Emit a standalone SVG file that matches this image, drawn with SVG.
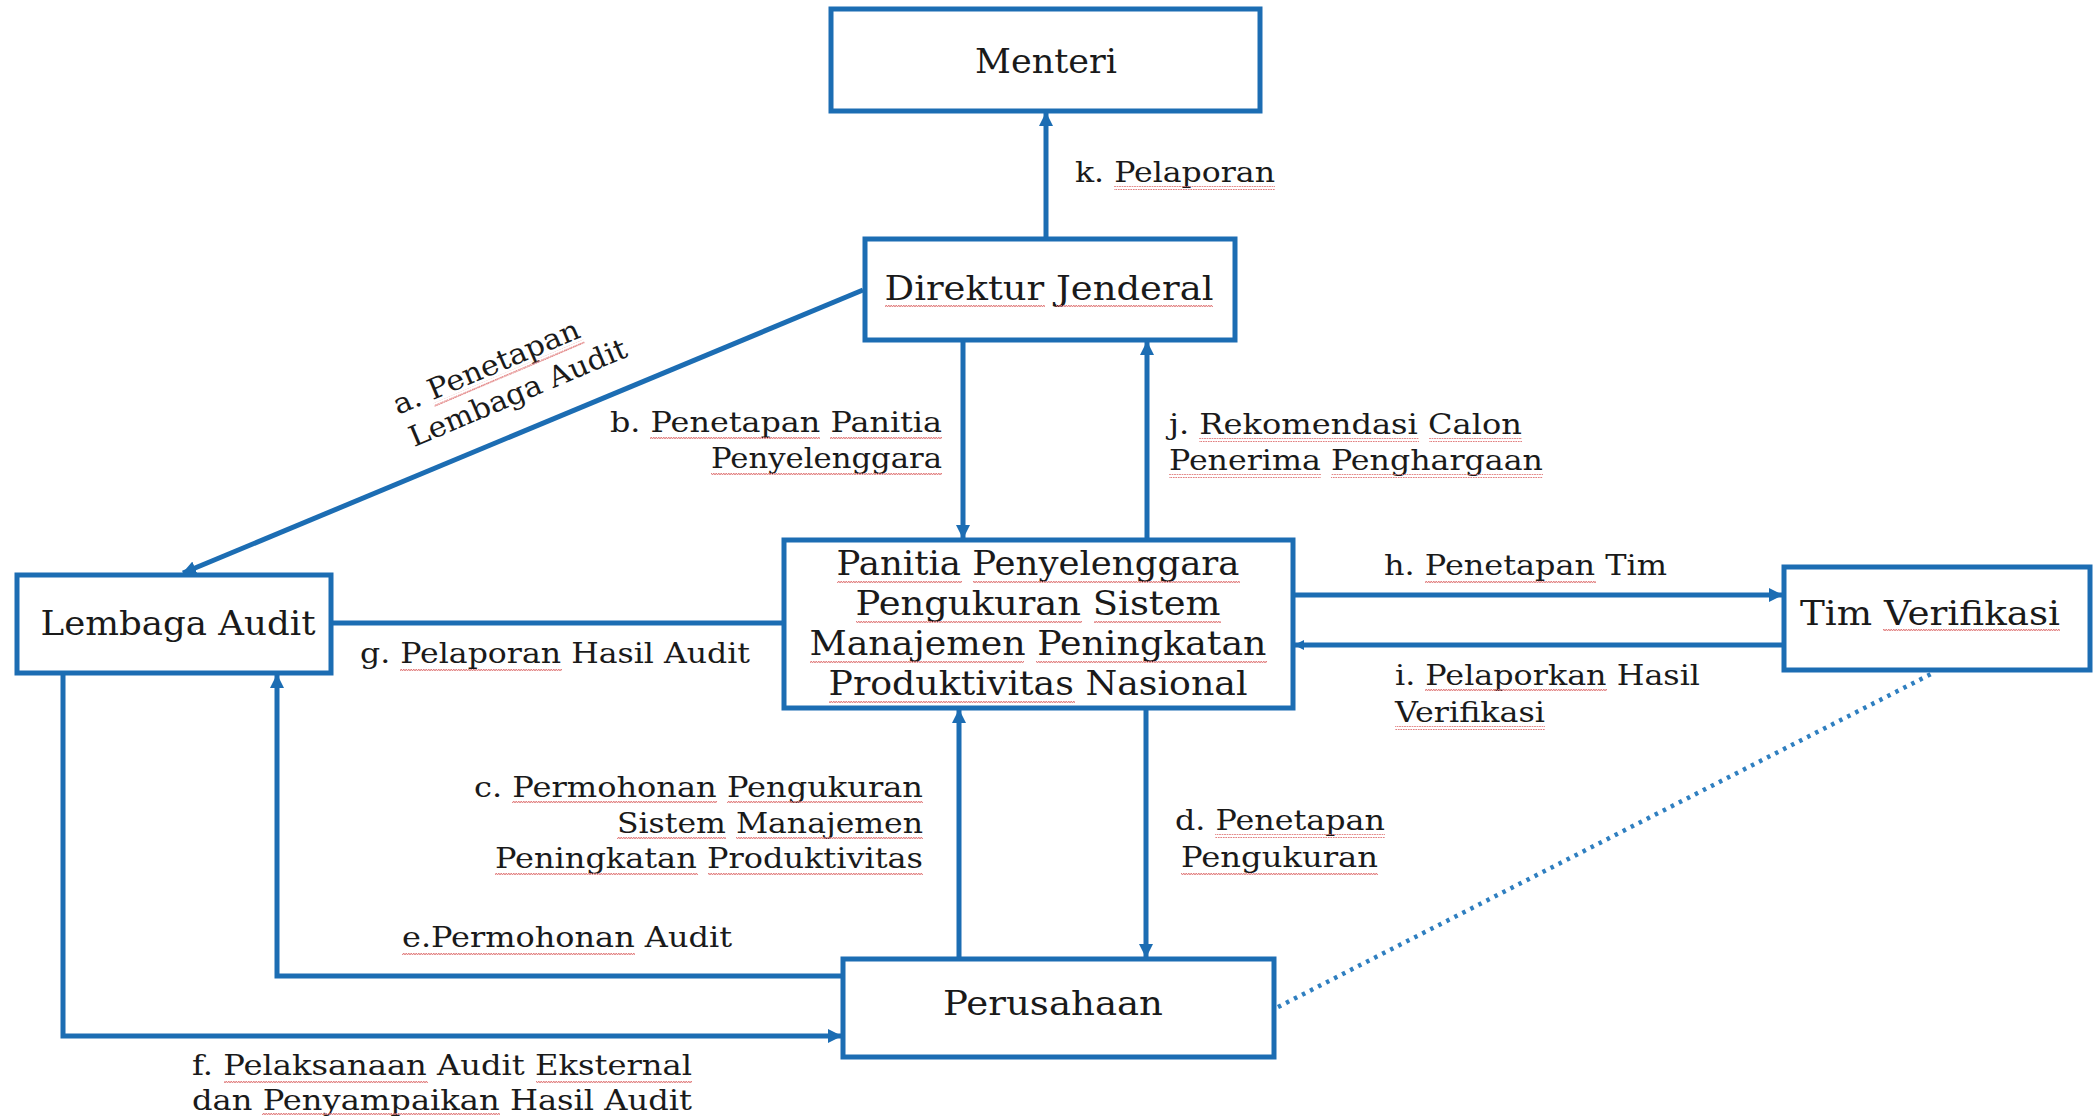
<svg xmlns="http://www.w3.org/2000/svg" width="2094" height="1117" viewBox="0 0 2094 1117">
<style>
.box{fill:#ffffff;stroke:#1c6db3;stroke-width:5}
.ln{fill:none;stroke:#1c6db3;stroke-width:5}
.dot{fill:none;stroke:#2f7fc0;stroke-width:4.5;stroke-dasharray:3.5 5.5}
.t{font-family:"DejaVu Serif","Liberation Serif",serif;fill:#1a1a1a}
.n{font-size:34px}
.l{font-size:28.5px}
.m{text-anchor:middle}
.e{text-anchor:end}
.sq{fill:url(#wave)}
</style>
<defs>
<marker id="ah" viewBox="0 0 14 14" refX="13" refY="7" markerWidth="14" markerHeight="14" markerUnits="userSpaceOnUse" orient="auto">
<path d="M0,0 L14,7 L0,14 z" fill="#1c6db3"/>
</marker>
<marker id="ahs" viewBox="0 0 10 10" refX="9" refY="5" markerWidth="10" markerHeight="10" markerUnits="userSpaceOnUse" orient="auto">
<path d="M0,0 L10,5 L0,10 z" fill="#1c6db3"/>
</marker>
<pattern id="wave" patternUnits="userSpaceOnUse" x="0" y="0" width="5" height="4">
<path d="M0,3 L1.25,1 L2.5,3 L3.75,1 L5,3" fill="none" stroke="#e07a7a" stroke-width="1"/>
</pattern>
</defs>
<rect width="2094" height="1117" fill="#ffffff"/>

<g id="connectors">
<path id="k" class="ln" d="M1046,237 L1046,113" marker-end="url(#ah)"/>
<path id="a" class="ln" d="M863,290 L183,573" marker-end="url(#ah)"/>
<path id="b" class="ln" d="M963,342 L963,538" marker-end="url(#ah)"/>
<path id="j" class="ln" d="M1147,538 L1147,342" marker-end="url(#ah)"/>
<path id="g" class="ln" d="M333,623 L782,623"/>
<path id="h" class="ln" d="M1295,595 L1782,595" marker-end="url(#ah)"/>
<path id="i" class="ln" d="M1782,645 L1295,645" marker-end="url(#ahs)"/>
<path id="c" class="ln" d="M959,957 L959,710" marker-end="url(#ah)"/>
<path id="d" class="ln" d="M1146,710 L1146,957" marker-end="url(#ah)"/>
<path id="e" class="ln" d="M841,976 L277,976 L277,675" marker-end="url(#ah)"/>
<path id="f" class="ln" d="M63,675 L63,1036 L841,1036" marker-end="url(#ah)"/>
<path id="v" class="dot" d="M1278,1007 L1935,672"/>

<text class="t l" x="1075" y="182" textLength="200" lengthAdjust="spacingAndGlyphs">k. Pelaporan</text>
<g transform="translate(398,415) rotate(-23)">
<text class="t l" x="0" y="0" textLength="200" lengthAdjust="spacingAndGlyphs">a. Penetapan</text>
<text class="t l" x="2" y="36" textLength="234" lengthAdjust="spacingAndGlyphs">Lembaga Audit</text>
<rect class="sq" x="37" y="3" width="163" height="4"/>
</g>
<text class="t l e" x="942" y="432" textLength="332" lengthAdjust="spacingAndGlyphs">b. Penetapan Panitia</text>
<text class="t l e" x="942" y="468" textLength="231" lengthAdjust="spacingAndGlyphs">Penyelenggara</text>
<text class="t l" x="1169" y="434" textLength="353" lengthAdjust="spacingAndGlyphs">j. Rekomendasi Calon</text>
<text class="t l" x="1169" y="470" textLength="374" lengthAdjust="spacingAndGlyphs">Penerima Penghargaan</text>
<text class="t l" x="360" y="663" textLength="390" lengthAdjust="spacingAndGlyphs">g. Pelaporan Hasil Audit</text>
<text class="t l" x="1384" y="575" textLength="283" lengthAdjust="spacingAndGlyphs">h. Penetapan Tim</text>
<text class="t l" x="1395" y="685" textLength="305" lengthAdjust="spacingAndGlyphs">i. Pelaporkan Hasil</text>
<text class="t l" x="1395" y="722" textLength="150" lengthAdjust="spacingAndGlyphs">Verifikasi</text>
<text class="t l e" x="923" y="797" textLength="449" lengthAdjust="spacingAndGlyphs">c. Permohonan Pengukuran</text>
<text class="t l e" x="923" y="833" textLength="306" lengthAdjust="spacingAndGlyphs">Sistem Manajemen</text>
<text class="t l e" x="923" y="868" textLength="428" lengthAdjust="spacingAndGlyphs">Peningkatan Produktivitas</text>
<text class="t l" x="1175" y="830" textLength="210" lengthAdjust="spacingAndGlyphs">d. Penetapan</text>
<text class="t l" x="1181" y="867" textLength="197" lengthAdjust="spacingAndGlyphs">Pengukuran</text>
<text class="t l" x="402" y="947" textLength="330" lengthAdjust="spacingAndGlyphs">e.Permohonan Audit</text>
<text class="t l" x="192" y="1075" textLength="500" lengthAdjust="spacingAndGlyphs">f. Pelaksanaan Audit Eksternal</text>
<text class="t l" x="192" y="1110" textLength="500" lengthAdjust="spacingAndGlyphs">dan Penyampaikan Hasil Audit</text>
</g>

<g id="menteri">
<rect class="box" x="831" y="9" width="429" height="102"/>
<text class="t n m" x="1046" y="73" textLength="142" lengthAdjust="spacingAndGlyphs">Menteri</text>
</g>
<g id="direktur">
<rect class="box" x="865" y="239" width="370" height="101"/>
<text class="t n m" x="1049" y="300" textLength="329" lengthAdjust="spacingAndGlyphs">Direktur Jenderal</text>
</g>
<g id="lembaga">
<rect class="box" x="17" y="575" width="314" height="98"/>
<text class="t n m" x="178" y="635" textLength="275" lengthAdjust="spacingAndGlyphs">Lembaga Audit</text>
</g>
<g id="panitia">
<rect class="box" x="784" y="540" width="509" height="168"/>
<text class="t n m" x="1038" y="575" textLength="403" lengthAdjust="spacingAndGlyphs">Panitia Penyelenggara</text>
<text class="t n m" x="1038" y="615" textLength="365" lengthAdjust="spacingAndGlyphs">Pengukuran Sistem</text>
<text class="t n m" x="1038" y="655" textLength="457" lengthAdjust="spacingAndGlyphs">Manajemen Peningkatan</text>
<text class="t n m" x="1038" y="695" textLength="419" lengthAdjust="spacingAndGlyphs">Produktivitas Nasional</text>
</g>
<g id="tim">
<rect class="box" x="1784" y="567" width="306" height="103"/>
<text class="t n m" x="1930" y="625" textLength="260" lengthAdjust="spacingAndGlyphs">Tim Verifikasi</text>
</g>
<g id="perusahaan">
<rect class="box" x="843" y="959" width="431" height="98"/>
<text class="t n m" x="1053" y="1015" textLength="220" lengthAdjust="spacingAndGlyphs">Perusahaan</text>
</g>

<g id="spellcheck">
<rect class="sq" x="1114" y="186" width="161" height="4"/>
<rect class="sq" x="885" y="304" width="160" height="4"/>
<rect class="sq" x="1056" y="304" width="157" height="4"/>
<rect class="sq" x="650" y="436" width="170" height="4"/>
<rect class="sq" x="830" y="436" width="112" height="4"/>
<rect class="sq" x="711" y="472" width="231" height="4"/>
<rect class="sq" x="1199" y="438" width="220" height="4"/>
<rect class="sq" x="1429" y="438" width="93" height="4"/>
<rect class="sq" x="1169" y="474" width="152" height="4"/>
<rect class="sq" x="1331" y="474" width="212" height="4"/>
<rect class="sq" x="837" y="579" width="125" height="4"/>
<rect class="sq" x="973" y="579" width="267" height="4"/>
<rect class="sq" x="856" y="619" width="226" height="4"/>
<rect class="sq" x="1094" y="619" width="127" height="4"/>
<rect class="sq" x="810" y="659" width="214" height="4"/>
<rect class="sq" x="1036" y="659" width="231" height="4"/>
<rect class="sq" x="829" y="699" width="246" height="4"/>
<rect class="sq" x="400" y="667" width="162" height="4"/>
<rect class="sq" x="1425" y="579" width="171" height="4"/>
<rect class="sq" x="1883" y="629" width="177" height="4"/>
<rect class="sq" x="1425" y="689" width="182" height="4"/>
<rect class="sq" x="1395" y="726" width="150" height="4"/>
<rect class="sq" x="512" y="801" width="205" height="4"/>
<rect class="sq" x="727" y="801" width="196" height="4"/>
<rect class="sq" x="617" y="837" width="109" height="4"/>
<rect class="sq" x="736" y="837" width="187" height="4"/>
<rect class="sq" x="495" y="872" width="203" height="4"/>
<rect class="sq" x="708" y="872" width="215" height="4"/>
<rect class="sq" x="1215" y="834" width="170" height="4"/>
<rect class="sq" x="1181" y="871" width="197" height="4"/>
<rect class="sq" x="402" y="951" width="233" height="4"/>
<rect class="sq" x="224" y="1079" width="204" height="4"/>
<rect class="sq" x="536" y="1079" width="156" height="4"/>
<rect class="sq" x="262" y="1113" width="238" height="4"/>
</g>
</svg>
